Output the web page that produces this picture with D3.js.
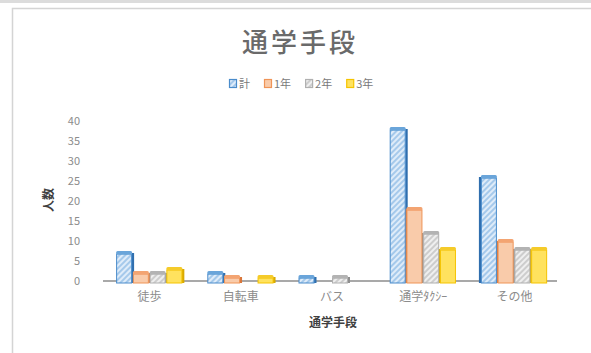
<!DOCTYPE html>
<html>
<head>
<meta charset="utf-8">
<script src="https://cdn.jsdelivr.net/npm/d3@7"></script>
<style>
  html, body { margin: 0; padding: 0; background: #fff; }
  svg { display: block; font-family: "Noto Sans CJK JP", "Noto Sans", sans-serif; }
</style>
</head>
<body>
<svg id="chart" width="591" height="353"></svg>
<script>
// 通学手段別の人数（学年別）
const categories = ["徒歩", "自転車", "バス", "通学ﾀｸｼｰ", "その他"];
const seriesNames = ["計", "1年", "2年", "3年"];
const totalValues  = [7, 2, 1, 38, 26];
const grade1Values = [2, 1, 0, 18, 10];
const grade2Values = [2, 0, 1, 12, 8];
const grade3Values = [3, 1, 0, 8, 8];
const yTickValues = [0, 5, 10, 15, 20, 25, 30, 35, 40];
const chartTitle = "通学手段";
const xAxisTitle = "通学手段";
const yAxisTitle = "人数";

const seriesValues = [totalValues, grade1Values, grade2Values, grade3Values];

const svg = d3.select("#chart");

// frame
svg.append("rect").attr("x", 0).attr("y", 0).attr("width", 591).attr("height", 3).attr("fill", "#dcdcdc");
svg.append("rect").attr("x", 12.5).attr("y", 8.5).attr("width", 700).attr("height", 500)
  .attr("fill", "#fff").attr("stroke", "#d4d4d4").attr("stroke-width", 1.5);

// fills per series
const defs = svg.append("defs");
function hatch(id, bg, line) {
  const p = defs.append("pattern").attr("id", id).attr("patternUnits", "userSpaceOnUse")
    .attr("width", 4).attr("height", 4).attr("patternTransform", "rotate(45)");
  p.append("rect").attr("width", 4).attr("height", 4).attr("fill", bg);
  p.append("line").attr("x1", 1).attr("y1", 0).attr("x2", 1).attr("y2", 4)
    .attr("stroke", line).attr("stroke-width", 1.3);
}
hatch("hatch-total", "#dfecf9", "#86b6e4");
hatch("hatch-g2", "#efefef", "#bbbbbb");

const styles = [
  { front: "url(#hatch-total)", stroke: "#4a8ccb", cap: "#6aa5da", side: "#2f6eae" },
  { front: "#f9cbaa", stroke: "#ef9457", cap: "#f3a472", side: "#d9763a" },
  { front: "url(#hatch-g2)", stroke: "#b0b0b0", cap: "#b3b3b3", side: "#8e8e8e" },
  { front: "#ffe25e", stroke: "#f5c400", cap: "#f5cb2a", side: "#d9aa00" }
];

// scales
const y = d3.scaleLinear().domain([0, 40]).range([281, 121]);
const x0 = d3.scaleBand().domain(categories).range([104, 560]);
const x1 = d3.scaleBand().domain(seriesNames).range([0, 67]);

// title
svg.append("text").attr("x", 300).attr("y", 52).attr("text-anchor", "middle")
  .attr("font-size", 26).attr("font-weight", 500).attr("letter-spacing", 3)
  .attr("fill", "#6a6a6a").text(chartTitle);

// legend
const legend = svg.append("g").attr("transform", "translate(229,84)");
let lx = 0;
seriesNames.forEach((name, i) => {
  const g = legend.append("g").attr("transform", `translate(${lx},0)`);
  g.append("rect").attr("x", 0.5).attr("y", -4.5).attr("width", 7).attr("height", 8)
    .attr("fill", styles[i].front).attr("stroke", styles[i].stroke).attr("stroke-width", 1.2);
  const t = g.append("text").attr("x", 10).attr("y", 0).attr("dy", "0.35em")
    .attr("font-size", 11).attr("fill", "#7a7a7a").text(name);
  lx += 10 + t.node().getComputedTextLength() + 14;
});

// y axis
const yAxis = svg.append("g").attr("transform", "translate(80,0)")
  .call(d3.axisLeft(y).tickValues(yTickValues).tickSize(0).tickPadding(0));
yAxis.select(".domain").remove();
yAxis.selectAll("text").attr("font-size", 11).attr("fill", "#8c8c8c")
  .attr("font-family", "'Noto Sans CJK JP', sans-serif");

// x axis labels
const xAxis = svg.append("g").attr("transform", `translate(0,${y(0)})`)
  .call(d3.axisBottom(x0).tickSize(0).tickPadding(11));
xAxis.select(".domain").remove();
xAxis.selectAll("text").attr("font-size", 12).attr("fill", "#8c8c8c")
  .attr("font-family", "'Noto Sans CJK JP', sans-serif");

// floor line
svg.append("line").attr("x1", 103).attr("x2", 557).attr("y1", y(0)).attr("y2", y(0))
  .attr("stroke", "#a9a9a9").attr("stroke-width", 2);

// columns
const barData = [];
categories.forEach((cat, ci) => {
  seriesNames.forEach((s, si) => {
    barData.push({ cat, s, si, v: seriesValues[si][ci] });
  });
});
const bars = barData.filter(d => d.v > 0);
const frontW = 15, depth = 2.5, capH = 3.5, lift = 2;
const vanishX = 410;
const bx = d => x0(d.cat) + (x0.bandwidth() - 67) / 2 + x1(d.s) + 0.5;
const topY = d => y(d.v) - lift;
const bottom = y(0) + 2;

const gBars = svg.append("g");
// side faces first
gBars.selectAll("path.side").data(bars).join("path").attr("class", "side")
  .attr("fill", d => styles[d.si].side)
  .attr("d", d => {
    const x = bx(d), top = topY(d) + 1;
    const rightSide = x + frontW / 2 < vanishX;
    const sx = rightSide ? x + frontW : x - depth;
    return `M${sx},${top + 1}h${depth}V${bottom}h${-depth}Z`;
  });
// front faces
gBars.selectAll("rect.front").data(bars).join("rect").attr("class", "front")
  .attr("x", d => bx(d)).attr("y", d => topY(d) + capH - 0.5)
  .attr("width", frontW).attr("height", d => Math.max(0, bottom - topY(d) - capH + 0.5))
  .attr("fill", d => styles[d.si].front)
  .attr("stroke", d => styles[d.si].stroke).attr("stroke-width", 1);
// top caps
gBars.selectAll("rect.cap").data(bars).join("rect").attr("class", "cap")
  .attr("x", d => bx(d) - 0.5).attr("y", d => topY(d))
  .attr("width", frontW + 1).attr("height", capH).attr("rx", 1.5)
  .attr("fill", d => styles[d.si].cap);

// axis titles
svg.append("text").attr("transform", "translate(49,200) rotate(-90)")
  .attr("text-anchor", "middle").attr("dy", "0.35em")
  .attr("font-size", 12).attr("font-weight", 700).attr("fill", "#404040").text(yAxisTitle);
svg.append("text").attr("x", 333).attr("y", 323).attr("text-anchor", "middle").attr("dy", "0.35em")
  .attr("font-size", 12).attr("font-weight", 700).attr("fill", "#404040").text(xAxisTitle);
</script>
</body>
</html>
